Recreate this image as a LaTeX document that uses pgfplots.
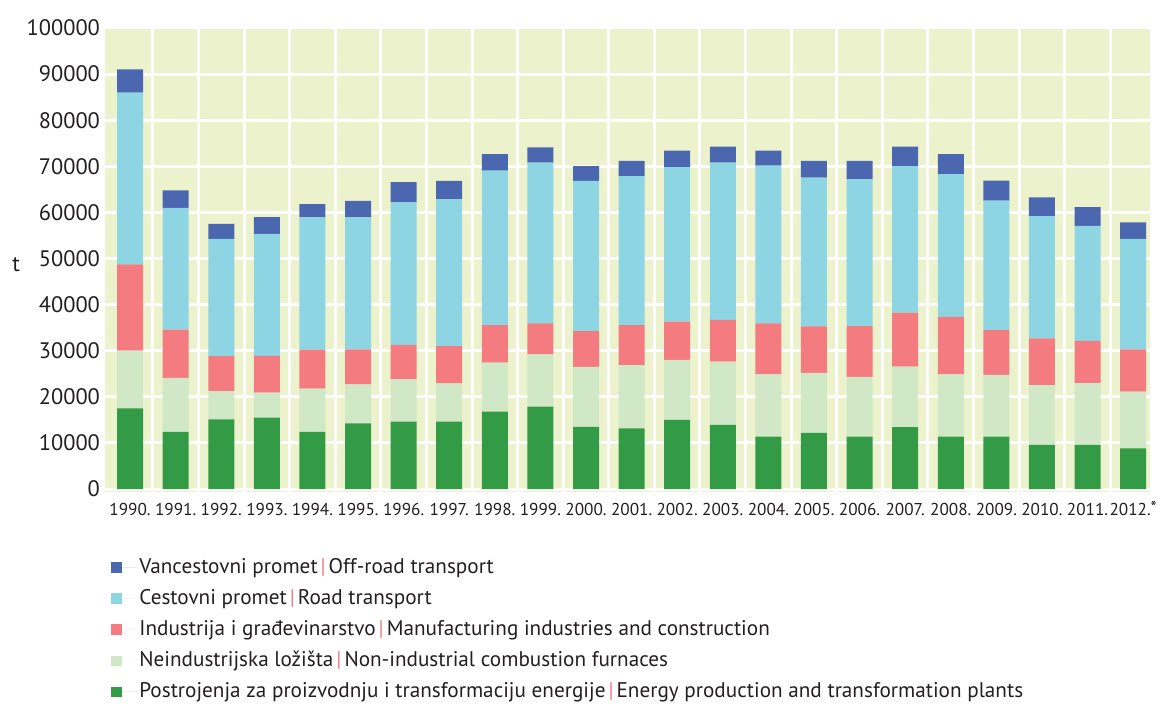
\documentclass[border=0pt]{standalone}
\usepackage{pgfplots}
\pgfplotsset{compat=1.18}
\usepackage{fontspec}
\setmainfont{PT Sans}
\definecolor{cblue}{HTML}{4A67B0}
\definecolor{ccyan}{HTML}{8DD5E3}
\definecolor{cred}{HTML}{F47C80}
\definecolor{clgreen}{HTML}{D0E8C6}
\definecolor{cgreen}{HTML}{339B46}
\definecolor{cbg}{HTML}{EBF2CC}
\definecolor{ctext}{HTML}{231F20}
\newcommand{\sep}{\hspace{1.5pt}{\color{cred}|}\hspace{1.5pt}}
\begin{document}
\begin{tikzpicture}
\useasboundingbox (0,0) rectangle (579pt,352pt);
\begin{axis}[
  at={(52.5pt,106.1pt)}, anchor=south west,
  scale only axis, width=522.5pt, height=231.9pt,
  ybar stacked, bar width=13pt,
  xmin=-0.55, xmax=22.37, ymin=-600, ymax=100000,
  xtick={0,...,22},
  xticklabels={1990.,1991.,1992.,1993.,1994.,1995.,1996.,1997.,1998.,1999.,2000.,2001.,2002.,2003.,2004.,2005.,2006.,2007.,2008.,2009.,2010.,2011.,2012.\raisebox{0.3ex}{*}},
  minor x tick num=1,
  ytick={0,10000,...,100000},
  scaled y ticks=false,
  /pgf/number format/assume math mode=true,
  yticklabel={\pgfmathprintnumber[fixed,use comma,1000 sep={}]{\tick}},
  axis background/.style={fill=cbg},
  axis line style={draw=none},
  major tick length=0pt, minor tick length=0pt,
  ymajorgrids, xminorgrids,
  major grid style={white, line width=1.5pt},
  minor grid style={white, line width=1.5pt},
  tick label style={text=ctext},
  yticklabel style={font=\fontsize{11.2}{13}\selectfont, xshift=1pt},
  xticklabel style={font=\fontsize{8.6}{10}\selectfont, anchor=base, yshift=-12pt, inner sep=0pt},
  ylabel={t}, ylabel style={rotate=-90, font=\fontsize{11.2}{13}\selectfont, text=ctext, at={(axis description cs:-0.085,0.49)}, anchor=center},
  reverse legend,
  legend cell align=left,
  legend style={at={(axis description cs:0.0,-0.1295)}, anchor=north west, draw=none, fill=none,
    font=\fontsize{10.6}{12}\selectfont, text=ctext, row sep=4.5pt,
    nodes={inner sep=1pt}},
  legend image code/.code={\fill[#1,draw=none] (0pt,-2.6pt) rectangle (5.2pt,2.6pt); \path (0pt,0pt) -- (13pt,0pt);},
  every axis plot/.append style={draw=none},
]
\addplot[fill=cgreen] coordinates {(0,17500)(1,12400)(2,15100)(3,15500)(4,12400)(5,14250)(6,14600)(7,14600)(8,16800)(9,17850)(10,13500)(11,13150)(12,15000)(13,13900)(14,11350)(15,12200)(16,11350)(17,13400)(18,11350)(19,11350)(20,9550)(21,9550)(22,8800)};
\addplot[fill=clgreen] coordinates {(0,12500)(1,11700)(2,6150)(3,5400)(4,9400)(5,8450)(6,9200)(7,8300)(8,10600)(9,11350)(10,13000)(11,13750)(12,13000)(13,13750)(14,13500)(15,13000)(16,13000)(17,13150)(18,13500)(19,13400)(20,13000)(21,13400)(22,12300)};
\addplot[fill=cred] coordinates {(0,18700)(1,10500)(2,7600)(3,8000)(4,8450)(5,7600)(6,7450)(7,8100)(8,8150)(9,6750)(10,7750)(11,8650)(12,8300)(13,9050)(14,11100)(15,10100)(16,11000)(17,11700)(18,12500)(19,9750)(20,10100)(21,9200)(22,9200)};
\addplot[fill=ccyan] coordinates {(0,37300)(1,26400)(2,25400)(3,26450)(4,28650)(5,28600)(6,30950)(7,31900)(8,33500)(9,34850)(10,32600)(11,32300)(12,33500)(13,34100)(14,34200)(15,32250)(16,31800)(17,31800)(18,30950)(19,28050)(20,26550)(21,24950)(22,23950)};
\addplot[fill=cblue] coordinates {(0,5000)(1,3800)(2,3250)(3,3600)(4,2900)(5,3600)(6,4350)(7,3950)(8,3600)(9,3300)(10,3200)(11,3300)(12,3600)(13,3450)(14,3250)(15,3600)(16,4050)(17,4200)(18,4350)(19,4350)(20,4050)(21,4050)(22,3600)};
\legend{Postrojenja za proizvodnju i transformaciju energije\sep Energy production and transformation plants,
Neindustrijska ložišta\sep Non-industrial combustion furnaces,
Industrija i građevinarstvo\sep Manufacturing industries and construction,
Cestovni promet\sep Road transport,
Vancestovni promet\sep Off-road transport}
\end{axis}
\end{tikzpicture}
\end{document}
